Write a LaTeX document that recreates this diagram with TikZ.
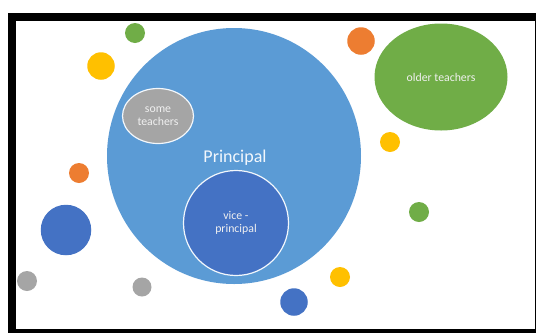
\documentclass[tikz,border=0pt]{standalone}
\usepackage{fontspec}
\setmainfont{Carlito}
\usetikzlibrary{shapes.geometric}
\definecolor{bigblue}{HTML}{5B9BD5}
\definecolor{darkblue}{HTML}{4472C4}
\definecolor{ogreen}{HTML}{70AD47}
\definecolor{oorange}{HTML}{ED7D31}
\definecolor{oyellow}{HTML}{FFC000}
\definecolor{ogrey}{HTML}{A5A5A5}
\newcommand{\lowr}[1]{\raisebox{-1pt}{#1}}
\tikzset{
  blob/.style={circle,inner sep=0pt,outer sep=0pt,draw=none,minimum size=#1},
  oval/.style={ellipse,inner sep=0pt,outer sep=0pt,align=center},
  lab/.style={font=\fontsize{11.8}{13.5}\selectfont,text=white!88!gray},
  rim/.style={draw=white!92!bigblue,line width=1.2pt}
}
\begin{document}
\begin{tikzpicture}[x=1pt,y=-1pt]
\useasboundingbox (0,0) rectangle (536,333);
\fill[white] (0,0) rectangle (536,333);
% frame
\fill[black] (8,13) rectangle (536,333);
\fill[white] (16,21) rectangle (534.7,329);
% big circle
\node[oval,fill=bigblue,minimum width=254pt,minimum height=256pt] (principal) at (234,156) {};
\node[font=\fontsize{18}{20}\selectfont,text=white!92!bigblue] (principaltext) at (235,158) {Principal};
% ellipses
\node[oval,fill=ogrey,rim,minimum width=71pt,minimum height=55pt,lab] (some) at (158,116) {\lowr{some}\\\lowr{teachers}};
\node[oval,fill=darkblue,rim,minimum width=105pt,minimum height=105pt,lab] (vice) at (236,223) {\lowr{vice -}\\\lowr{principal}};
\node[oval,fill=ogreen,minimum width=133pt,minimum height=107pt,lab] (older) at (441,77) {older teachers};
% small circles
\node[blob=20pt,fill=ogreen] (g1) at (135,33) {};
\node[blob=27.5pt,fill=oyellow] (y1) at (101,66) {};
\node[blob=27.5pt,fill=oorange] (o1) at (361,41) {};
\node[blob=20pt,fill=oyellow] (y2) at (390,142) {};
\node[blob=20pt,fill=oorange] (o2) at (79,173) {};
\node[blob=50.5pt,fill=darkblue] (b1) at (66,230) {};
\node[blob=20pt,fill=ogrey] (gr1) at (27,281) {};
\node[blob=19pt,fill=ogrey] (gr2) at (142,287) {};
\node[blob=20pt,fill=ogreen] (g2) at (419,212) {};
\node[blob=20pt,fill=oyellow] (y3) at (340,277) {};
\node[blob=27.5pt,fill=darkblue] (b2) at (294,302) {};
\end{tikzpicture}
\end{document}
